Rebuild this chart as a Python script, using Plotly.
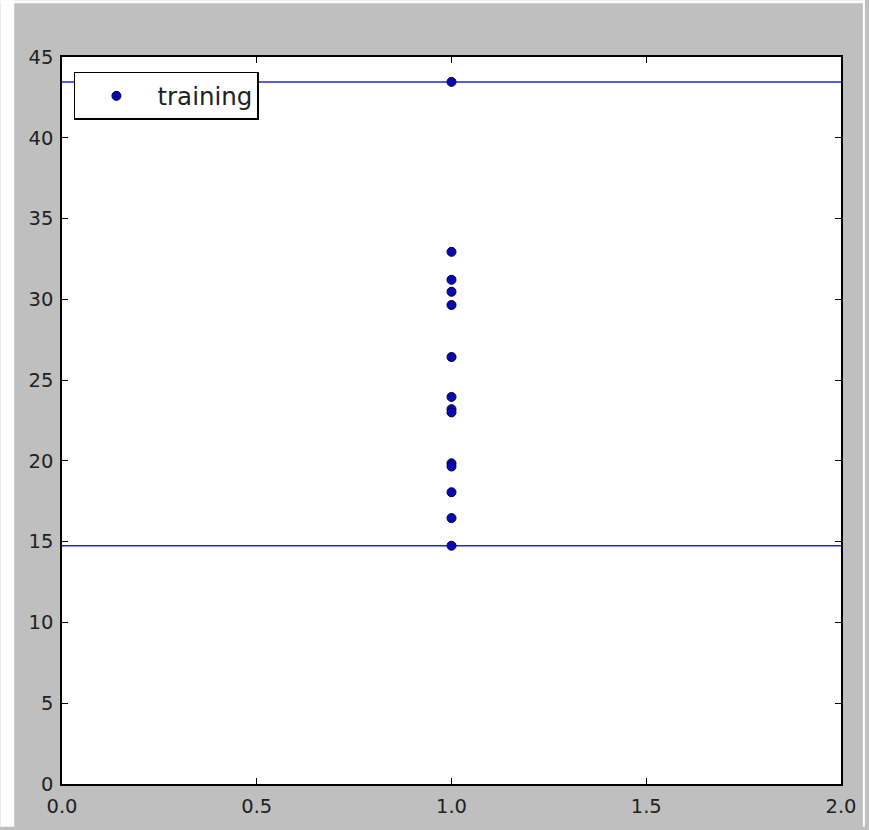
import plotly.graph_objects as go

# data
x_value = 1.0
training_values = [43.46, 32.94, 31.21, 30.47, 29.65, 26.43, 23.96, 23.2, 23.0,
                   19.85, 19.65, 18.06, 16.46, 14.75]
x_range = [0.0, 2.0]
y_range = [0, 45]
x_ticks = [0.0, 0.5, 1.0, 1.5, 2.0]
x_tick_labels = ["0.0", "0.5", "1.0", "1.5", "2.0"]
y_ticks = [0, 5, 10, 15, 20, 25, 30, 35, 40, 45]
y_tick_labels = [str(v) for v in y_ticks]

y_max = max(training_values)
y_min = min(training_values)

W, H = 869, 830
ML, MR, MT, MB = 62, 24, 57, 43
pw, ph = W - ML - MR, H - MT - MB

def px_x(p):
    return (p - ML) / pw

def px_y(p):
    return (H - MB - p) / ph

line_color = "#2222dd"
fig = go.Figure()
for yv in (y_max, y_min):
    fig.add_trace(go.Scatter(x=x_range, y=[yv, yv], mode="lines",
                             line=dict(color=line_color, width=1.5),
                             showlegend=False, hoverinfo="skip"))

fig.add_trace(go.Scatter(
    x=[x_value] * len(training_values), y=training_values, mode="markers",
    name="training",
    marker=dict(size=9, color="#0808b8", line=dict(color="#000030", width=1)),
))

axis_common = dict(showgrid=False, zeroline=False, showline=True, linecolor="black",
                   linewidth=1.5, ticks="inside", ticklen=6, tickwidth=1,
                   tickcolor="black", mirror="ticks",
                   tickfont=dict(family="DejaVu Sans", size=19.5, color="#222222"))

fig.update_xaxes(range=x_range, tickvals=x_ticks, ticktext=x_tick_labels,
                 ticklabelstandoff=4, **axis_common)
fig.update_yaxes(range=y_range, tickvals=y_ticks, ticktext=y_tick_labels,
                 ticklabelstandoff=3, **axis_common)

# white strips around the grey figure area
strips = [
    (px_x(0), px_x(14), px_y(H), px_y(0)),
    (px_x(0), px_x(W), px_y(3), px_y(0)),
    (px_x(867), px_x(W), px_y(H), px_y(0)),
]
for x0, x1, y0, y1 in strips:
    fig.add_shape(type="rect", xref="paper", yref="paper", x0=x0, x1=x1, y0=y0, y1=y1,
                  fillcolor="white", line=dict(width=0), layer="below")

fig.update_layout(
    width=W, height=H,
    margin=dict(l=ML, r=MR, t=MT, b=MB),
    paper_bgcolor="#bfbfbf", plot_bgcolor="white",
    font=dict(family="DejaVu Sans", color="#222222"),
    legend=dict(x=px_x(74), y=px_y(72), xanchor="left", yanchor="top",
                bgcolor="white", bordercolor="black", borderwidth=1.5,
                font=dict(family="DejaVu Sans", size=24.5, color="#222222"),
                itemwidth=72),
    showlegend=True,
)

fig.write_html("out.html", config={"displayModeBar": False},
               post_script="document.body.style.margin='0';document.body.style.overflow='hidden';")
